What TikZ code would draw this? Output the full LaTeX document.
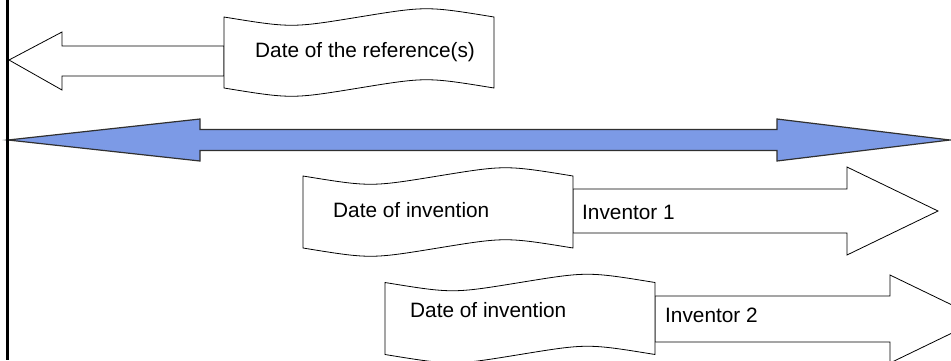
\documentclass[tikz,border=0pt]{standalone}
\usepackage{fontspec}
\setmainfont{Liberation Sans}
\definecolor{arrowblue}{HTML}{7C9AE6}
\definecolor{edgegray}{HTML}{303030}
\tikzset{
  outline/.style={draw=black, line width=0.8pt, fill=white, line join=miter},
  bluearrow/.style={draw=edgegray, line width=1.2pt, fill=arrowblue, line join=miter},
  label/.style={anchor=base west, inner sep=0pt, font=\fontsize{20.8}{24}\selectfont},
}
\newcommand{\tapeshape}[4]{% x, y, w, h
  \path[outline] (#1,#2)
    .. controls ({#1+#3/4},{#2+11}) .. ({#1+#3/2},{#2})
    .. controls ({#1+3*#3/4},{#2-11}) .. ({#1+#3},{#2})
    -- ({#1+#3},{#2+#4})
    .. controls ({#1+3*#3/4},{#2+#4-11}) .. ({#1+#3/2},{#2+#4})
    .. controls ({#1+#3/4},{#2+#4+11}) .. (#1,{#2+#4}) -- cycle;}
\begin{document}
\begin{tikzpicture}[x=1pt, y=-1pt]
  \useasboundingbox (0,0) rectangle (951,360);
  \clip (0,0) rectangle (951,360);
  % top-left hollow arrow
  \path[outline] (9,60) -- (62,32) -- (62,46) -- (224,46) -- (224,76) -- (62,76) -- (62,90) -- cycle;
  \tapeshape{224}{17}{270}{71}
  \node[label] (ref) at (255,57) {Date of the reference(s)};
  % blue double arrow
  \path[bluearrow] (8,140) -- (200,119) -- (200,129.5) -- (777,129.5) -- (777,119) -- (950,140)
    -- (777,161) -- (777,150.5) -- (200,150.5) -- (200,161) -- cycle;
  % inventor 1
  \path[outline] (573,189) -- (847,189) -- (847,167) -- (938,211) -- (847,255) -- (847,233) -- (573,233) -- cycle;
  \tapeshape{303}{176}{270}{72}
  \node[label] (inv1date) at (333,217) {Date of invention};
  \node[label] (inv1) at (582,219) {Inventor 1};
  % inventor 2
  \path[outline] (655,296) -- (890,296) -- (890,275) -- (981,319) -- (890,363) -- (890,342) -- (655,342) -- cycle;
  \tapeshape{385}{282.5}{270}{72}
  \node[label] (inv2date) at (410,317) {Date of invention};
  \node[label] (inv2) at (665,322) {Inventor 2};
  % left border line
  \draw[line width=2.7pt, black] (7.3,0) -- (7.3,360);
\end{tikzpicture}
\end{document}
